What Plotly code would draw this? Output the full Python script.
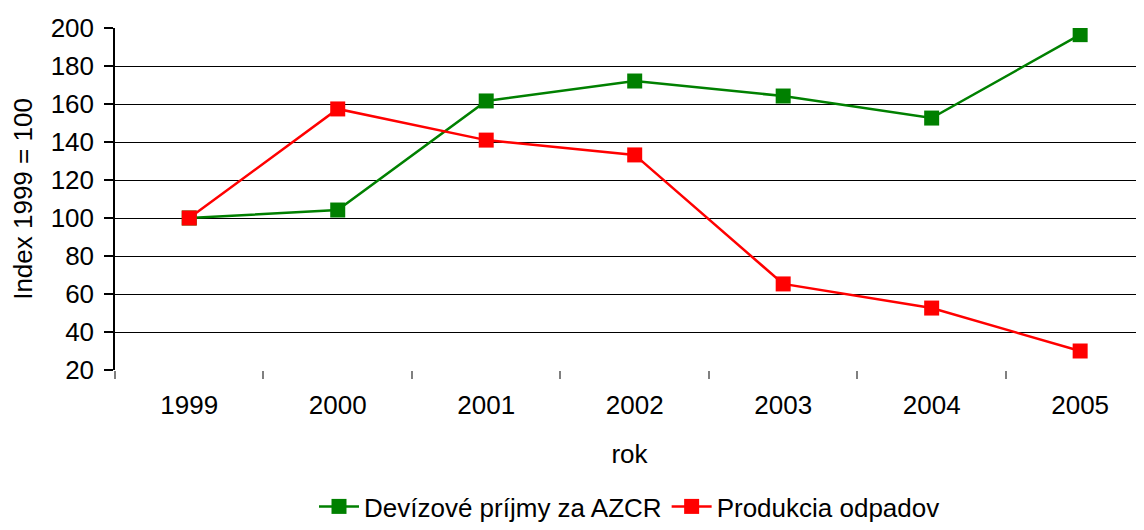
import plotly.graph_objects as go

years = ["1999", "2000", "2001", "2002", "2003", "2004", "2005"]
devizove = [100, 104.2, 161.6, 172.1, 164.2, 152.6, 196.5]
odpady = [100, 157.4, 141.0, 133.2, 65.3, 52.6, 30.0]

FONT = "Liberation Sans, Arial, sans-serif"

fig = go.Figure()
fig.add_trace(go.Scatter(
    x=years, y=devizove, mode="lines+markers", name="Devízové príjmy za AZCR",
    line=dict(color="#008000", width=2.5),
    marker=dict(symbol="square", size=15, color="#008000"),
))
fig.add_trace(go.Scatter(
    x=years, y=odpady, mode="lines+markers", name="Produkcia odpadov",
    line=dict(color="#FF0000", width=2.5),
    marker=dict(symbol="square", size=15, color="#FF0000"),
))

# page body has an 8px default margin, compensate
fig.update_layout(
    width=1136, height=522,
    margin=dict(l=107, r=0, t=20, b=160, autoexpand=False),
    paper_bgcolor="white", plot_bgcolor="white",
    font=dict(family=FONT, size=26, color="black"),
    showlegend=True,
    legend=dict(orientation="h", x=0.5, xanchor="center", xref="paper",
                yref="container", y=-0.014, yanchor="bottom",
                font=dict(size=26), itemwidth=40, tracegroupgap=0),
    xaxis=dict(
        type="category", range=[-0.5, 6.43],
        tickson="boundaries", ticks="outside", ticklen=8, tickcolor="#808080",
        tickwidth=1.5,
        showgrid=False, showline=False, zeroline=False,
        tickfont=dict(size=26), ticklabelstandoff=17, automargin=False,
        title=dict(text="rok", font=dict(size=26), standoff=25),
    ),
    yaxis=dict(
        range=[20, 200], tickvals=[20, 40, 60, 80, 100, 120, 140, 160, 180, 200],
        ticks="outside", ticklen=9, tickcolor="black", tickwidth=1.5,
        showgrid=True, gridcolor="black", gridwidth=1,
        showline=True, linecolor="black", linewidth=1.5,
        zeroline=False, automargin=False,
        tickfont=dict(size=26), ticklabelstandoff=5,
        title=dict(text="Index 1999 = 100", font=dict(size=26), standoff=14),
    ),
)

fig.write_html("out.html")
